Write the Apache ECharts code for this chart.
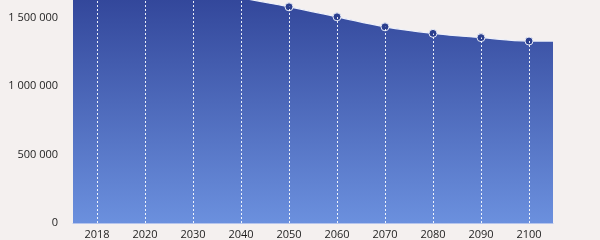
<!DOCTYPE html>
<html>
<head>
<meta charset="utf-8">
<script src="https://cdn.jsdelivr.net/npm/echarts@6/dist/echarts.min.js"></script>
<style>
html,body{margin:0;padding:0;background:#f4f0ef;}
#c{width:600px;height:240px;}
</style>
</head>
<body>
<div id="c"></div>
<script>
var years = ['2018','2020','2030','2040','2050','2060','2070','2080','2090','2100'];
var population = [1750000, 1740000, 1700000, 1645000, 1580000, 1507000, 1434000, 1386000, 1355000, 1330000];
var yTicks = [0, 500000, 1000000, 1500000];
var yMax = 1630000;

function fmt(v){ return String(v).replace(/\B(?=(\d{3})+(?!\d))/g, ' '); }

var areaData = [[0, population[0]]]
  .concat(population.map(function(v,i){ return [i + 0.5, v]; }))
  .concat([[years.length, population[population.length-1]]]);

var dropLines = population.map(function(v,i){
  return [{coord:[years[i], 0]}, {coord:[years[i], Math.min(v, yMax)]}];
});

var chart = echarts.init(document.getElementById('c'), null, {renderer:'canvas'});
chart.setOption({
  backgroundColor: '#f4f0ef',
  animation: false,
  grid: {left: 73, right: 47, top: 0, bottom: 17, outerBoundsMode: 'none', containLabel: false},
  textStyle: {fontFamily: 'Open Sans'},
  xAxis: [{
    type: 'category',
    data: years,
    boundaryGap: true,
    axisTick: {show: false},
    axisLine: {show: true, lineStyle: {color: '#b5c4ec', width: 1}},
    axisLabel: {color: '#1e1e1e', fontSize: 11, margin: 6, fontFamily: 'Open Sans'},
    splitLine: {show: false},
    z: 5
  }, {
    type: 'value',
    min: 0,
    max: years.length,
    show: false
  }],
  yAxis: {
    type: 'value',
    min: yTicks[0],
    max: yMax,
    interval: 500000,
    axisLine: {show: false},
    axisTick: {show: false},
    splitLine: {show: false},
    axisLabel: {color: '#1e1e1e', fontSize: 11, margin: 15, fontFamily: 'Open Sans', formatter: fmt, showMaxLabel: false}
  },
  series: [{
    type: 'line',
    xAxisIndex: 1,
    data: areaData,
    smooth: 0.4,
    showSymbol: false,
    symbol: 'none',
    lineStyle: {color: '#eef1fa', width: 1.2},
    areaStyle: {
      opacity: 1,
      color: new echarts.graphic.LinearGradient(0, 0, 0, 1, [
        {offset: 0, color: '#2f4296'},
        {offset: 1, color: '#6b90de'}
      ])
    },
    z: 1
  }, {
    type: 'line',
    xAxisIndex: 0,
    data: population,
    lineStyle: {opacity: 0},
    symbol: 'circle',
    symbolSize: 8,
    showSymbol: true,
    itemStyle: {color: '#2b3f8e', borderColor: '#e6eaf7', borderWidth: 1},
    markLine: {
      silent: true,
      symbol: ['none','none'],
      label: {show: false},
      lineStyle: {color: 'rgba(255,255,255,0.9)', width: 1, type: [2, 2]},
      data: dropLines
    },
    z: 3
  }]
});
</script>
</body>
</html>
